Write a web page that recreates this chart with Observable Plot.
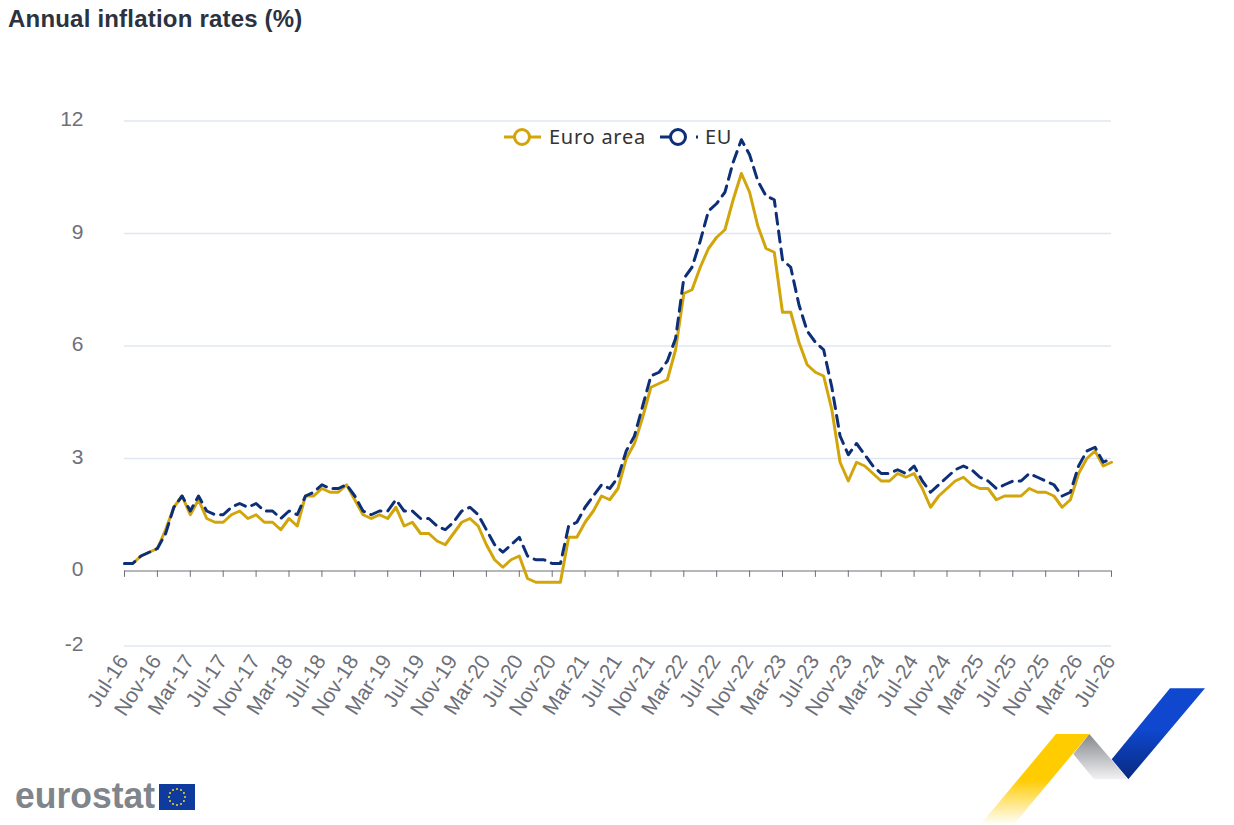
<!DOCTYPE html>
<html>
<head>
<meta charset="utf-8">
<title>Annual inflation rates (%)</title>
<script src="https://cdn.jsdelivr.net/npm/d3@7"></script>
<script src="https://cdn.jsdelivr.net/npm/@observablehq/plot@0.6"></script>
<style>
html,body{margin:0;padding:0;background:#fff;width:1234px;height:825px;overflow:hidden;position:relative}
#title{height:40px;box-sizing:border-box;padding:5px 0 0 8px;font:bold 24px/28px "Liberation Sans",Arial,sans-serif;color:#2b3240;letter-spacing:.2px}
.leg{position:absolute;top:123px;font:20px/28px "Noto Sans",sans-serif;color:#333;letter-spacing:.75px}
#deco{position:absolute;left:0;top:0;pointer-events:none}
</style>
</head>
<body>
<div id="title">Annual inflation rates (%)</div>
<div id="chart"></div>
<div class="leg" style="left:549px">Euro area</div>
<div class="leg" style="left:705px">EU</div>
<svg id="deco" width="1234" height="825" xmlns="http://www.w3.org/2000/svg">
  <defs>
    <linearGradient id="gBlue" x1="0" y1="0" x2="0" y2="1"><stop offset="0.45" stop-color="#0f47cf"/><stop offset="1" stop-color="#082a80"/></linearGradient>
    <linearGradient id="gGrey" x1="0" y1="0" x2="0" y2="1"><stop offset="0" stop-color="#85878c"/><stop offset="1" stop-color="#f2f2f4"/></linearGradient>
    <linearGradient id="gGold" x1="0" y1="0" x2="0" y2="1"><stop offset="0.5" stop-color="#ffcc00"/><stop offset="1" stop-color="#ffffff"/></linearGradient>
  </defs>
  <g id="legendSymbols"></g>
  <polygon points="1170,688.3 1205,688.3 1128.3,779.3 1111.7,759.3" fill="url(#gBlue)"/>
  <polygon points="1089.3,734 1128.3,779.3 1094,779.3 1073.3,754" fill="url(#gGrey)"/>
  <polygon points="1056,734 1089.3,734 1013.3,825 980,825" fill="url(#gGold)"/>
  <text x="15" y="808" font-family="Liberation Sans, Arial, sans-serif" font-weight="bold" font-size="36" fill="#80848b" textLength="140" lengthAdjust="spacingAndGlyphs">eurostat</text>
  <rect x="159" y="784" width="36" height="26" fill="#0f3a9e"/>
  <g id="stars"></g>
</svg>
<script>
const years = [2016,2017,2018,2019,2020,2021,2022,2023,2024,2025,2026];
const monthNames = ["Jan","Feb","Mar","Apr","May","Jun","Jul","Aug","Sep","Oct","Nov","Dec"];

const euroArea = [
  0.2,0.2,0.4,0.5,0.6,1.1,
  1.7,2.0,1.5,1.9,1.4,1.3,1.3,1.5,1.6,1.4,1.5,1.3,
  1.3,1.1,1.4,1.2,2.0,2.0,2.2,2.1,2.1,2.3,1.9,1.5,
  1.4,1.5,1.4,1.7,1.2,1.3,1.0,1.0,0.8,0.7,1.0,1.3,
  1.4,1.2,0.7,0.3,0.1,0.3,0.4,-0.2,-0.3,-0.3,-0.3,-0.3,
  0.9,0.9,1.3,1.6,2.0,1.9,2.2,3.0,3.4,4.1,4.9,5.0,
  5.1,5.9,7.4,7.5,8.1,8.6,8.9,9.1,9.9,10.6,10.1,9.2,
  8.6,8.5,6.9,6.9,6.1,5.5,5.3,5.2,4.3,2.9,2.4,2.9,
  2.8,2.6,2.4,2.4,2.6,2.5,2.6,2.2,1.7,2.0,2.2,2.4,
  2.5,2.3,2.2,2.2,1.9,2.0,2.0,2.0,2.2,2.1,2.1,2.0,
  1.7,1.9,2.6,3.0,3.2,2.8,2.9
];
const eu = [
  0.2,0.2,0.4,0.5,0.6,1.0,
  1.7,2.0,1.6,2.0,1.6,1.5,1.5,1.7,1.8,1.7,1.8,1.6,
  1.6,1.4,1.6,1.5,2.0,2.1,2.3,2.2,2.2,2.3,2.0,1.6,
  1.5,1.6,1.6,1.9,1.6,1.6,1.4,1.4,1.2,1.1,1.3,1.6,
  1.7,1.5,1.1,0.7,0.5,0.7,0.9,0.4,0.3,0.3,0.2,0.2,
  1.2,1.3,1.7,2.0,2.3,2.2,2.5,3.2,3.6,4.4,5.2,5.3,
  5.6,6.2,7.8,8.1,8.8,9.6,9.8,10.1,10.9,11.5,11.1,10.4,
  10.0,9.9,8.3,8.1,7.1,6.4,6.1,5.9,4.9,3.6,3.1,3.4,
  3.1,2.8,2.6,2.6,2.7,2.6,2.8,2.4,2.1,2.3,2.5,2.7,
  2.8,2.7,2.5,2.4,2.2,2.3,2.4,2.4,2.6,2.5,2.4,2.3,
  2.0,2.1,2.8,3.2,3.3,2.9,3.0
];
const yTicks = [-2,0,3,6,9,12];
const gridValues = [-2,3,6,9,12];

const months = [];
for (const y of years) for (const m of monthNames) months.push(`${m}-${String(y).slice(2)}`);
const labels = months.slice(months.indexOf("Jul-16"), months.indexOf("Jul-26") + 1);
const xTicks = labels.filter((d, i) => i % 4 === 0);
const rowsEA = labels.map((d, i) => ({month: d, value: euroArea[i]}));
const rowsEU = labels.map((d, i) => ({month: d, value: eu[i]}));

const AXIS = "#6e7079", GRID = "#e0e6f1", GOLD = "#d2a50a", NAVY = "#0d2f78";

const chart = Plot.plot({
  width: 1234,
  height: 700,
  marginTop: 80.5,
  marginBottom: 94.5,
  marginLeft: 124,
  marginRight: 123,
  style: {fontFamily: '"Liberation Sans", Arial, sans-serif', background: "transparent"},
  x: {type: "point", domain: labels, padding: 0, round: false},
  y: {domain: [-2, 12]},
  marks: [
    Plot.ruleY(gridValues, {stroke: GRID, strokeWidth: 1.4}),
    Plot.ruleY([0], {stroke: AXIS, strokeWidth: 1.2}),
    Plot.ruleX(xTicks, {x: d => d, y1: 0, y2: -0.17, stroke: AXIS, strokeWidth: 1}),
    Plot.axisY(yTicks, {anchor: "left", tickSize: 0, tickPadding: 41, fontSize: 21, color: AXIS, label: null, dy: -1.5, tickFormat: d => String(d)}),
    Plot.axisX(xTicks, {anchor: "bottom", tickSize: 0, tickPadding: 11, tickRotate: -57, fontSize: 21, color: AXIS, label: null, dx: -1}),
    Plot.line(rowsEA, {x: "month", y: "value", stroke: GOLD, strokeWidth: 3, curve: "linear"}),
    Plot.line(rowsEU, {x: "month", y: "value", stroke: NAVY, strokeWidth: 3, strokeDasharray: "11,7", curve: "linear"})
  ]
});
document.getElementById("chart").append(chart);

// Legend symbols
const leg = d3.select("#legendSymbols");
leg.append("line").attr("x1",504).attr("x2",541).attr("y1",137).attr("y2",137).attr("stroke",GOLD).attr("stroke-width",3);
leg.append("circle").attr("cx",522).attr("cy",137).attr("r",7.5).attr("fill","#fff").attr("stroke",GOLD).attr("stroke-width",3);
leg.append("line").attr("x1",660).attr("x2",698).attr("y1",137).attr("y2",137).attr("stroke",NAVY).attr("stroke-width",3).attr("stroke-dasharray","12,24,2,2");
leg.append("circle").attr("cx",678).attr("cy",137).attr("r",7.5).attr("fill","#fff").attr("stroke",NAVY).attr("stroke-width",3);

// EU flag stars
const st = d3.select("#stars");
d3.range(12).forEach(i => {
  const a = i * Math.PI / 6;
  st.append("circle").attr("cx",177 + 8 * Math.sin(a)).attr("cy",797 - 8 * Math.cos(a)).attr("r",1).attr("fill","#ffd617");
});
</script>
</body>
</html>
